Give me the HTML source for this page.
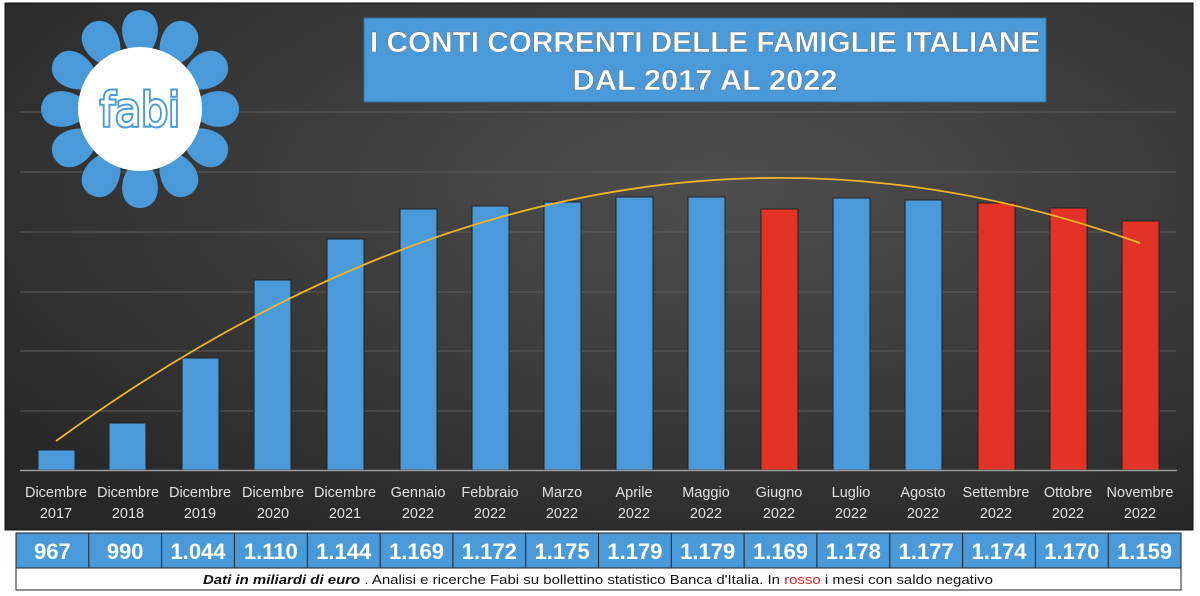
<!DOCTYPE html>
<html><head><meta charset="utf-8"><style>
html,body{margin:0;padding:0;background:#fff;width:1200px;height:596px;overflow:hidden}
</style></head><body>
<svg width="1200" height="596" viewBox="0 0 1200 596" xmlns="http://www.w3.org/2000/svg" font-family="Liberation Sans, sans-serif">
<defs>
<radialGradient id="bg" cx="0.6" cy="0.35" r="0.8">
<stop offset="0" stop-color="#4e4e4e"/><stop offset="1" stop-color="#262626"/>
</radialGradient>
</defs>
<rect x="5" y="3" width="1188" height="527" fill="url(#bg)" stroke="#111" stroke-width="1"/>
<g stroke="#5e5e5e" stroke-width="1">
<line x1="20" y1="112" x2="1176" y2="112"/><line x1="20" y1="172" x2="1176" y2="172"/>
<line x1="20" y1="232" x2="1176" y2="232"/><line x1="20" y1="292" x2="1176" y2="292"/>
<line x1="20" y1="351" x2="1176" y2="351"/><line x1="20" y1="411" x2="1176" y2="411"/>
</g>
<g stroke="#222" stroke-width="1">
<rect x="38" y="450" width="37" height="20" fill="#4a9ada"/>
<rect x="109" y="423" width="37" height="47" fill="#4a9ada"/>
<rect x="182" y="358" width="37" height="112" fill="#4a9ada"/>
<rect x="254" y="280" width="37" height="190" fill="#4a9ada"/>
<rect x="327" y="239" width="37" height="231" fill="#4a9ada"/>
<rect x="400" y="209" width="37" height="261" fill="#4a9ada"/>
<rect x="472" y="206" width="37" height="264" fill="#4a9ada"/>
<rect x="544" y="202" width="37" height="268" fill="#4a9ada"/>
<rect x="616" y="197" width="37" height="273" fill="#4a9ada"/>
<rect x="688" y="197" width="37" height="273" fill="#4a9ada"/>
<rect x="761" y="209" width="37" height="261" fill="#e23326"/>
<rect x="833" y="198" width="37" height="272" fill="#4a9ada"/>
<rect x="905" y="200" width="37" height="270" fill="#4a9ada"/>
<rect x="978" y="203" width="37" height="267" fill="#e23326"/>
<rect x="1050" y="208" width="37" height="262" fill="#e23326"/>
<rect x="1122" y="221" width="37" height="249" fill="#e23326"/>
</g>
<line x1="20" y1="470.5" x2="1177" y2="470.5" stroke="#9a9a9a" stroke-width="1.5"/>
<path d="M56 441 Q598 47 1140 243" fill="none" stroke="#f0b429" stroke-width="1.8"/>
<g fill="#e0e0e0" font-size="14.5" text-anchor="middle">
<text x="56" y="497">Dicembre</text><text x="56" y="518">2017</text>
<text x="128" y="497">Dicembre</text><text x="128" y="518">2018</text>
<text x="200" y="497">Dicembre</text><text x="200" y="518">2019</text>
<text x="273" y="497">Dicembre</text><text x="273" y="518">2020</text>
<text x="345" y="497">Dicembre</text><text x="345" y="518">2021</text>
<text x="418" y="497">Gennaio</text><text x="418" y="518">2022</text>
<text x="490" y="497">Febbraio</text><text x="490" y="518">2022</text>
<text x="562" y="497">Marzo</text><text x="562" y="518">2022</text>
<text x="634" y="497">Aprile</text><text x="634" y="518">2022</text>
<text x="706" y="497">Maggio</text><text x="706" y="518">2022</text>
<text x="779" y="497">Giugno</text><text x="779" y="518">2022</text>
<text x="851" y="497">Luglio</text><text x="851" y="518">2022</text>
<text x="923" y="497">Agosto</text><text x="923" y="518">2022</text>
<text x="996" y="497">Settembre</text><text x="996" y="518">2022</text>
<text x="1068" y="497">Ottobre</text><text x="1068" y="518">2022</text>
<text x="1140" y="497">Novembre</text><text x="1140" y="518">2022</text>
</g>
<!-- title -->
<rect x="364" y="18" width="682" height="84" fill="#4a9ada" stroke="#2b6fa8"/>
<g fill="#fff" font-weight="bold" font-size="29" text-anchor="middle" stroke="#6a6a6a" stroke-width="0.4">
<text x="705" y="52" textLength="670" lengthAdjust="spacingAndGlyphs">I CONTI CORRENTI DELLE FAMIGLIE ITALIANE</text>
<text x="705" y="90" textLength="265" lengthAdjust="spacingAndGlyphs">DAL 2017 AL 2022</text>
</g>
<!-- logo -->
<g transform="translate(140,109)" fill="#4a9ada">
<g id="p"><path d="M-12 -60 C-22 -75 -20 -98 0 -99 C20 -98 22 -75 12 -60 Z"/></g>
<use href="#p" transform="rotate(30)"/><use href="#p" transform="rotate(60)"/><use href="#p" transform="rotate(90)"/>
<use href="#p" transform="rotate(120)"/><use href="#p" transform="rotate(150)"/><use href="#p" transform="rotate(180)"/>
<use href="#p" transform="rotate(210)"/><use href="#p" transform="rotate(240)"/><use href="#p" transform="rotate(270)"/>
<use href="#p" transform="rotate(300)"/><use href="#p" transform="rotate(330)"/>
<circle r="62" fill="#fff"/>
<text x="0" y="17" text-anchor="middle" font-size="46" fill="#fff" stroke="#4a9ada" stroke-width="4" paint-order="stroke" font-family="DejaVu Sans, sans-serif" textLength="80" lengthAdjust="spacingAndGlyphs">fabi</text>
</g>
<!-- table -->
<rect x="16" y="533" width="1165" height="35" fill="#4a9ada" stroke="#222"/>
<g stroke="#222">
<line x1="88.8" y1="533" x2="88.8" y2="568"/><line x1="161.6" y1="533" x2="161.6" y2="568"/><line x1="234.4" y1="533" x2="234.4" y2="568"/><line x1="307.3" y1="533" x2="307.3" y2="568"/><line x1="380.1" y1="533" x2="380.1" y2="568"/><line x1="452.9" y1="533" x2="452.9" y2="568"/><line x1="525.7" y1="533" x2="525.7" y2="568"/><line x1="598.5" y1="533" x2="598.5" y2="568"/><line x1="671.3" y1="533" x2="671.3" y2="568"/><line x1="744.1" y1="533" x2="744.1" y2="568"/><line x1="816.9" y1="533" x2="816.9" y2="568"/><line x1="889.8" y1="533" x2="889.8" y2="568"/><line x1="962.6" y1="533" x2="962.6" y2="568"/><line x1="1035.4" y1="533" x2="1035.4" y2="568"/><line x1="1108.2" y1="533" x2="1108.2" y2="568"/>
</g>
<g fill="#fff" font-weight="bold" font-size="22" text-anchor="middle">
<text x="52.4" y="559">967</text><text x="125.2" y="559">990</text><text x="198" y="559">1.044</text><text x="270.8" y="559">1.110</text><text x="343.7" y="559">1.144</text><text x="416.5" y="559">1.169</text><text x="489.3" y="559">1.172</text><text x="562.1" y="559">1.175</text><text x="634.9" y="559">1.179</text><text x="707.7" y="559">1.179</text><text x="780.5" y="559">1.169</text><text x="853.3" y="559">1.178</text><text x="926.2" y="559">1.177</text><text x="999" y="559">1.174</text><text x="1071.8" y="559">1.170</text><text x="1144.6" y="559">1.159</text>
</g>
<rect x="16" y="568" width="1165" height="22" fill="#fff" stroke="#222"/>
<text x="598" y="584" text-anchor="middle" font-size="13" fill="#111" textLength="790" lengthAdjust="spacingAndGlyphs"><tspan font-style="italic" font-weight="bold">Dati in miliardi di euro</tspan> . Analisi e ricerche Fabi su bollettino statistico Banca d'Italia. In <tspan fill="#e02020">rosso</tspan> i mesi con saldo negativo</text>
</svg>
</body></html>
